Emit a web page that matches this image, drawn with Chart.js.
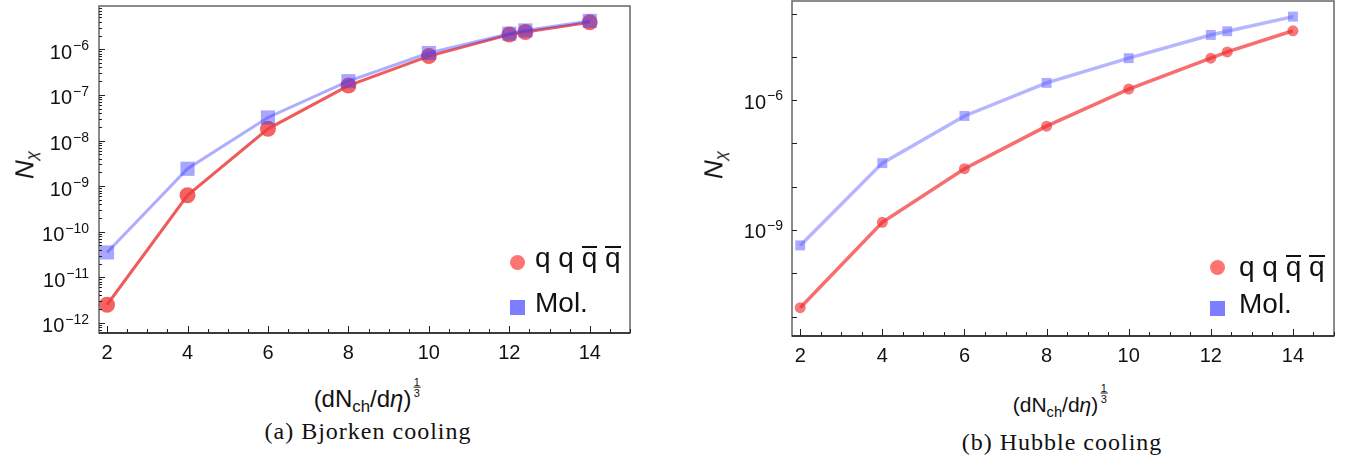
<!DOCTYPE html>
<html>
<head>
<meta charset="utf-8">
<script src="https://cdn.jsdelivr.net/npm/chart.js@4.4.1/dist/chart.umd.min.js"></script>
<style>
body { margin:0; background:#fff; width:1351px; height:464px; position:relative; overflow:hidden; font-family:"Liberation Sans", Arial, sans-serif; color:#111; }
canvas { position:absolute; top:0; }
#bjorken { left:0; }
#hubble { left:680px; }
.ytitle { position:absolute; font-size:26px; font-style:italic; transform:translate(-50%,-50%) rotate(-90deg); white-space:nowrap; line-height:1; }
.ytitle sub { font-size:17px; vertical-align:-0.25em; }
.xtitle { position:absolute; transform:translate(-50%,-50%); white-space:nowrap; line-height:1; }
.xtitle sub { font-size:0.7em; vertical-align:-0.3em; }
.frac { display:inline-block; font-size:11px; line-height:10px; text-align:center; vertical-align:0.9em; margin-left:2px; }
.frac span { display:block; }
.frac .bar { border-top:1px solid #111; width:7px; margin:0 auto; height:0; }
.caption { position:absolute; font-family:"Liberation Serif", serif; font-size:24px; letter-spacing:1px; transform:translate(-50%,-50%); white-space:nowrap; line-height:1; }
.leg { position:absolute; font-size:28px; line-height:28px; white-space:nowrap; }
.ov { position:relative; }
.ov::before { content:''; position:absolute; left:0; right:0; top:4px; border-top:2px solid #111; }
.dot { position:absolute; width:15px; height:15px; border-radius:50%; background:#ff7373; }
.sq { position:absolute; width:15px; height:15px; background:#7d7dff; }
</style>
</head>
<body>
<canvas id="bjorken" width="660" height="370"></canvas>
<canvas id="hubble" width="671" height="370"></canvas>

<div class="ytitle" style="left:26px;top:165px;">N<sub>χ</sub></div>
<div class="ytitle" style="left:715px;top:165px;">N<sub>χ</sub></div>

<div class="xtitle" style="left:367px;top:396px;font-size:24px;">(dN<sub>ch</sub>/d<i>η</i>)<span class="frac"><span>1</span><span class="bar"></span><span>3</span></span></div>
<div class="xtitle" style="left:1060px;top:401px;font-size:21px;">(dN<sub>ch</sub>/d<i>η</i>)<span class="frac"><span>1</span><span class="bar"></span><span>3</span></span></div>

<div class="caption" style="left:368px;top:431px;">(a) Bjorken cooling</div>
<div class="caption" style="left:1062px;top:442px;">(b) Hubble cooling</div>

<div class="dot" style="left:510px;top:255px;"></div>
<div class="leg" style="left:535px;top:244px;">q q <span class="ov">q</span> <span class="ov">q</span></div>
<div class="sq" style="left:510px;top:300px;"></div>
<div class="leg" style="left:535px;top:289px;">Mol.</div>

<div class="dot" style="left:1210px;top:260px;"></div>
<div class="leg" style="left:1239px;top:253px;">q q <span class="ov">q</span> <span class="ov">q</span></div>
<div class="sq" style="left:1210px;top:301px;"></div>
<div class="leg" style="left:1239px;top:290px;">Mol.</div>

<script>
// x positions of the points, (dN_ch/d eta)^(1/3)
var xValues = [2, 4, 6, 8, 10, 12, 12.4, 14];

// (a) Bjorken cooling
var bjorkenTetra = [2.5e-12, 6.3e-10, 1.8e-8, 1.6e-7, 7.1e-7, 2.1e-6, 2.4e-6, 3.9e-6];
var bjorkenMol = [3.5e-11, 2.4e-9, 3.2e-8, 2.0e-7, 8.3e-7, 2.2e-6, 2.6e-6, 4.2e-6];

// (b) Hubble cooling
var hubbleTetra = [1.6e-11, 1.5e-9, 2.6e-8, 2.5e-7, 1.8e-6, 9.3e-6, 1.3e-5, 4.0e-5];
var hubbleMol = [4.4e-10, 3.5e-8, 4.3e-7, 2.5e-6, 9.3e-6, 3.2e-5, 3.9e-5, 8.5e-5];

var xTickValues = [2, 4, 6, 8, 10, 12, 14];
var xTickLabels = ['2', '4', '6', '8', '10', '12', '14'];

// exponents of the labelled y ticks (10^n)
var bjorkenYExponents = [-12, -11, -10, -9, -8, -7, -6];
var hubbleYExponents = [-9, -6];

function points(ys) {
	var out = [];
	for (var i = 0; i < xValues.length; i++) out.push({x: xValues[i], y: ys[i]});
	return out;
}

function isDecade(v) {
	var l = Math.log10(v);
	return Math.abs(l - Math.round(l)) < 1e-6;
}

function framePlugin(spec) {
	return {
		id: 'frame',
		afterDraw: function(chart) {
			var ctx = chart.ctx;
			var a = chart.chartArea;
			var xs = chart.scales.x;
			var ys = chart.scales.y;
			ctx.save();
			ctx.lineWidth = 1.5;
			ctx.strokeStyle = '#666';
			ctx.strokeRect(a.left, a.top, a.right - a.left, a.bottom - a.top);
			ctx.strokeStyle = '#222';
			ctx.beginPath();
			ctx.moveTo(a.left, a.bottom);
			ctx.lineTo(a.right, a.bottom);
			ctx.stroke();

			ctx.lineWidth = 1;
			ctx.strokeStyle = '#222';
			xs.ticks.forEach(function(t) {
				var px = Math.round(xs.getPixelForValue(t.value)) + 0.5;
				var len = xTickValues.indexOf(t.value) >= 0 ? 7 : 4;
				ctx.beginPath();
				ctx.moveTo(px, a.bottom);
				ctx.lineTo(px, a.bottom - len);
				ctx.stroke();
			});
			ys.ticks.forEach(function(t) {
				var py = Math.round(ys.getPixelForValue(t.value)) + 0.5;
				var len = isDecade(t.value) ? spec.majorLen : spec.minorLen;
				ctx.beginPath();
				ctx.moveTo(a.left, py);
				ctx.lineTo(a.left + len, py);
				ctx.stroke();
			});

			// y labels 10^n with a raised exponent
			ctx.fillStyle = '#111';
			ctx.textBaseline = 'alphabetic';
			ctx.textAlign = 'left';
			spec.exponents.forEach(function(e) {
				var py = ys.getPixelForValue(Math.pow(10, e));
				var exp = '\u2212' + Math.abs(e);
				ctx.font = spec.baseFont + 'px "Liberation Sans", Arial, sans-serif';
				var wb = ctx.measureText('10').width;
				ctx.font = spec.expFont + 'px "Liberation Sans", Arial, sans-serif';
				var we = ctx.measureText(exp).width;
				var x0 = a.left - spec.labelGap - wb - we - 1;
				ctx.font = spec.baseFont + 'px "Liberation Sans", Arial, sans-serif';
				ctx.fillText('10', x0, py + spec.baseDrop);
				ctx.font = spec.expFont + 'px "Liberation Sans", Arial, sans-serif';
				ctx.fillText(exp, x0 + wb + 1, py + spec.expDrop);
			});
			ctx.restore();
		}
	};
}

function makeChart(id, tetra, mol, spec) {
	var halfSteps = [];
	for (var v = 2; v <= 15; v += 0.5) halfSteps.push({value: v});
	var yTicks = [];
	for (var e = spec.minExp; e <= spec.maxExp; e++) {
		if (spec.minor) {
			for (var m = 1; m < 10; m++) yTicks.push({value: m * Math.pow(10, e)});
		} else {
			yTicks.push({value: Math.pow(10, e)});
		}
	}
	yTicks = yTicks.filter(function(t) { return t.value >= spec.yMin && t.value <= spec.yMax; });

	// Mol. first so it is drawn on top and mixes with the red into purple
	return new Chart(document.getElementById(id), {
		type: 'line',
		data: {
			datasets: [{
				label: 'Mol.',
				data: points(mol),
				borderColor: spec.blueLine,
				borderWidth: spec.lineWidth,
				backgroundColor: spec.bluePoint,
				pointBackgroundColor: spec.bluePoint,
				pointBorderWidth: 0,
				pointRadius: spec.squareRadius,
				pointStyle: 'rect',
				tension: 0
			}, {
				label: 'qqq\u0305q\u0305',
				data: points(tetra),
				borderColor: spec.redLine,
				borderWidth: spec.lineWidth,
				backgroundColor: spec.redPoint,
				pointBackgroundColor: spec.redPoint,
				pointBorderWidth: 0,
				pointRadius: spec.circleRadius,
				pointStyle: 'circle',
				tension: 0
			}]
		},
		options: {
			responsive: false,
			animation: false,
			devicePixelRatio: 1,
			layout: { autoPadding: false, padding: { left: 0, top: spec.padTop, right: spec.padRight, bottom: 0 } },
			plugins: { legend: { display: false }, tooltip: { enabled: false } },
			scales: {
				x: {
					type: 'linear',
					min: 1.8,
					max: 15,
					afterBuildTicks: function(axis) { axis.ticks = halfSteps.slice(); },
					afterFit: function(axis) { axis.height = spec.xAxisHeight; },
					grid: { display: false, drawTicks: false },
					border: { display: false },
					ticks: {
						autoSkip: false,
						maxRotation: 0,
						padding: 8,
						color: '#111',
						font: { family: '"Liberation Sans", Arial, sans-serif', size: spec.xFont },
						callback: function(value) {
							var i = xTickValues.indexOf(value);
							return i >= 0 ? xTickLabels[i] : '';
						}
					}
				},
				y: {
					type: 'logarithmic',
					min: spec.yMin,
					max: spec.yMax,
					afterBuildTicks: function(axis) { axis.ticks = yTicks.slice(); },
					afterFit: function(axis) { axis.width = spec.yAxisWidth; },
					grid: { display: false, drawTicks: false },
					border: { display: false },
					ticks: { display: false }
				}
			}
		},
		plugins: [framePlugin(spec)]
	});
}

makeChart('bjorken', bjorkenTetra, bjorkenMol, {
	yMin: Math.pow(10, -12.22), yMax: Math.pow(10, -5.05),
	minExp: -13, maxExp: -5, minor: true,
	majorLen: 6, minorLen: 3,
	exponents: bjorkenYExponents,
	baseFont: 20, expFont: 14, baseDrop: 9.5, expDrop: 1, labelGap: 10,
	padTop: 6, padRight: 30, xAxisHeight: 37, yAxisWidth: 99, xFont: 20,
	lineWidth: 3,
	redLine: 'rgba(235,50,50,0.8)', redPoint: 'rgba(240,60,60,0.8)',
	blueLine: 'rgba(60,60,255,0.42)', bluePoint: 'rgba(60,60,255,0.45)',
	circleRadius: 8, squareRadius: 10
});

makeChart('hubble', hubbleTetra, hubbleMol, {
	yMin: Math.pow(10, -11.45), yMax: Math.pow(10, -3.71),
	minExp: -12, maxExp: -3, minor: false,
	majorLen: 5, minorLen: 3,
	exponents: hubbleYExponents,
	baseFont: 20, expFont: 14, baseDrop: 8.5, expDrop: 0, labelGap: 9,
	padTop: 1, padRight: 671 - 654, xAxisHeight: 34, yAxisWidth: 112, xFont: 20,
	lineWidth: 3.5,
	redLine: 'rgba(245,60,60,0.75)', redPoint: 'rgba(240,50,50,0.65)',
	blueLine: 'rgba(110,110,255,0.5)', bluePoint: 'rgba(100,100,255,0.55)',
	circleRadius: 5.5, squareRadius: 7
});
</script>
</body>
</html>
